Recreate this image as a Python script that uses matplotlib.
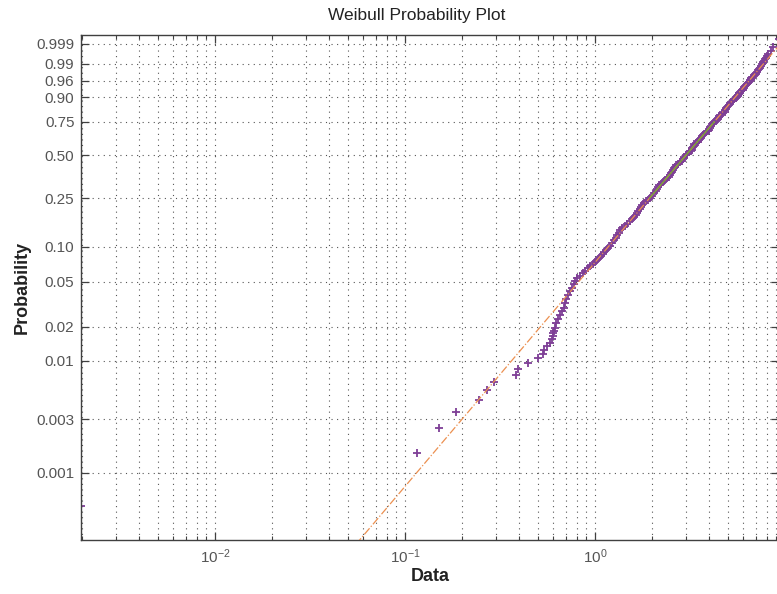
import numpy as np
import matplotlib
matplotlib.use('Agg')
import matplotlib.pyplot as plt
from matplotlib.ticker import LogLocator, NullFormatter, NullLocator, FixedLocator

plt.rcParams['font.family'] = ['Liberation Sans', 'DejaVu Sans']
plt.rcParams['mathtext.fontset'] = 'custom'
plt.rcParams['mathtext.rm'] = 'Liberation Sans'
plt.rcParams['mathtext.it'] = 'Liberation Sans:italic'

# sample size and sorted data (rank -> value)
n_samples = 1000
ranks = [1, 2, 3, 4, 5, 6, 7, 8, 9, 10, 11, 12, 13, 14, 15, 16,
         17, 18, 19, 20, 22, 24, 26, 28, 30, 33, 36, 39, 42, 45, 48, 51,
         54, 57, 60, 63, 66, 69, 72, 75, 78, 81, 84, 87, 90, 94, 98,
         102, 108, 114, 120, 126, 132, 138, 144, 150, 157, 164, 171, 178,
         185, 192, 199, 206, 213, 220, 228, 236, 244,
         252, 262, 272, 282, 292, 302, 312, 322, 332, 342, 352, 362, 372,
         382, 392, 402, 412, 422, 432, 442, 452, 462, 472, 482, 492, 502,
         512, 522, 532, 542, 552, 562, 572, 582, 592, 602, 612, 622, 632,
         642, 652, 662, 672, 682, 692, 702, 712, 722, 732, 742,
         750, 757, 764, 771, 778, 785, 792, 799, 806, 813, 820, 827, 834,
         841, 848, 855, 862, 869, 876, 883, 890, 897,
         900, 903, 906, 909, 912, 915, 918, 921, 924, 927, 930, 933, 936,
         939, 942, 945, 948, 951, 954, 957,
         960, 962, 964, 966, 968, 970, 972, 974, 976, 978, 980, 982, 984,
         986, 988, 990, 991, 992, 993, 994, 995, 996, 997, 998, 999, 1000]
values = [0.00198, 0.115, 0.151, 0.185, 0.246, 0.270, 0.294, 0.384, 0.395,
          0.446, 0.503, 0.535, 0.539, 0.559, 0.580, 0.596,
          0.599, 0.604, 0.608, 0.613, 0.626, 0.640, 0.656, 0.670, 0.683,
          0.694, 0.707, 0.724, 0.740, 0.757, 0.772, 0.786,
          0.806, 0.835, 0.863, 0.890, 0.918, 0.946, 0.973, 0.994, 1.021,
          1.048, 1.074, 1.101, 1.121, 1.148, 1.173,
          1.199, 1.229, 1.258, 1.285, 1.312, 1.338, 1.362, 1.394, 1.435,
          1.480, 1.525, 1.570, 1.606, 1.641, 1.665, 1.690, 1.723, 1.746,
          1.768, 1.805, 1.853, 1.900,
          1.947, 2.005, 2.050, 2.082, 2.114, 2.144, 2.174, 2.217, 2.273,
          2.329, 2.385, 2.443, 2.486, 2.514, 2.542, 2.585, 2.612, 2.638,
          2.680, 2.739, 2.798, 2.858, 2.901, 2.927, 2.954, 2.997,
          3.059, 3.121, 3.185, 3.231, 3.257, 3.284, 3.310, 3.336, 3.404,
          3.471, 3.539, 3.588, 3.617, 3.646, 3.696, 3.769, 3.843, 3.921,
          3.976, 4.007, 4.040, 4.074, 4.107, 4.166,
          4.241, 4.310, 4.380, 4.426, 4.446, 4.494, 4.517, 4.567, 4.644,
          4.721, 4.807, 4.862, 4.890, 4.919, 4.980, 5.012, 5.046, 5.113,
          5.213, 5.317, 5.394, 5.506,
          5.543, 5.613, 5.651, 5.656, 5.662, 5.702, 5.714, 5.756, 5.832,
          5.877, 5.955, 6.004, 6.024, 6.076, 6.099, 6.156, 6.248, 6.311,
          6.414, 6.484,
          6.521, 6.572, 6.588, 6.644, 6.663, 6.725, 6.833, 6.943, 7.018,
          7.058, 7.101, 7.195, 7.299, 7.414, 7.500,
          7.55, 7.62, 7.69, 7.77, 7.85, 7.93, 8.03, 8.18, 8.39, 8.61, 9.30]

prob_ticks = [0.001, 0.003, 0.01, 0.02, 0.05, 0.10, 0.25, 0.50, 0.75,
              0.90, 0.96, 0.99, 0.999]
prob_labels = ['0.001', '0.003', '0.01', '0.02', '0.05', '0.10', '0.25',
               '0.50', '0.75', '0.90', '0.96', '0.99', '0.999']


def wbl_fwd(p):
    p = np.clip(np.asarray(p, dtype=float), 1e-15, 1 - 1e-15)
    return np.log(-np.log1p(-p))


def wbl_inv(q):
    return -np.expm1(-np.exp(np.asarray(q, dtype=float)))


ranks = np.array(ranks)
values = np.array(values)
probs = (ranks - 0.5) / n_samples

# reference line through the quartiles
x25 = np.interp(0.25, probs, values)
x75 = np.interp(0.75, probs, values)
q25, q75 = wbl_fwd(0.25), wbl_fwd(0.75)
slope = (q75 - q25) / (np.log(x75) - np.log(x25))
line_x = np.array([values.min(), values.max()])
line_p = wbl_inv(q25 + slope * (np.log(line_x) - np.log(x25)))
mid_x = np.array([x25, x75])
mid_p = np.array([0.25, 0.75])

fig = plt.figure(figsize=(7.77, 5.94), dpi=100)
ax = fig.add_axes([81.4 / 777, 54 / 594, (779 - 81.4) / 777, 505 / 594])
ax.set_xscale('log')
ax.set_yscale('function', functions=(wbl_fwd, wbl_inv))

ax.plot(values, probs, linestyle='none', marker='+', markersize=5.5,
        markeredgewidth=1.3, color='#7E3F96', zorder=2)
ax.plot(line_x, line_p, linestyle='-.', linewidth=0.9, color='#EC9050',
        zorder=3)
ax.plot(mid_x, mid_p, linestyle='-', linewidth=0.9, color='#77AC30',
        zorder=3)

ax.set_xlim(values.min(), values.max())
ax.set_ylim(0.25 / n_samples, 1 - 0.25 / n_samples)

ax.yaxis.set_major_locator(FixedLocator(prob_ticks))
ax.set_yticklabels(prob_labels)
ax.yaxis.set_minor_locator(NullLocator())
ax.xaxis.set_major_locator(LogLocator(base=10))
ax.xaxis.set_minor_locator(LogLocator(base=10, subs=np.arange(2, 10)))
ax.xaxis.set_minor_formatter(NullFormatter())

grid_kw = dict(color='#555555', linestyle=(0, (1, 4)), linewidth=0.8)
ax.grid(True, which='both', axis='x', **grid_kw)
ax.grid(True, which='major', axis='y', **grid_kw)
ax.set_axisbelow(True)

ax.tick_params(which='both', direction='in', top=True, right=True,
               color='#404040', labelcolor='#555555', labelsize=11)
ax.tick_params(which='major', length=6, width=0.9)
ax.tick_params(which='minor', length=3, width=0.8)
ax.tick_params(axis='y', pad=5)
ax.tick_params(axis='x', pad=5)
for s in ax.spines.values():
    s.set_color('#404040')
    s.set_linewidth(1.0)

ax.set_xlabel('Data', fontsize=13, fontweight='bold', color='#222222',
              labelpad=2)
ax.set_ylabel('Probability', fontsize=13, fontweight='bold',
              color='#222222', labelpad=4)
ax.set_title('Weibull Probability Plot', fontsize=12.5, color='#222222',
             x=0.481, pad=11)

fig.savefig('out.png', dpi=100)
